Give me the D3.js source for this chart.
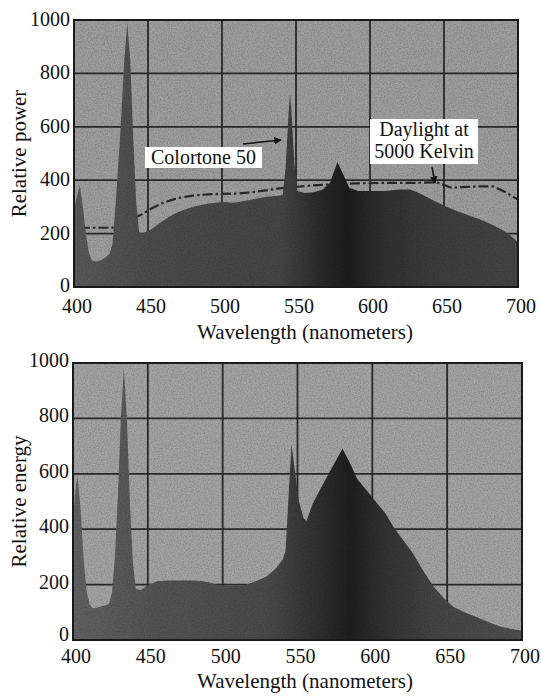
<!DOCTYPE html>
<html>
<head>
<meta charset="utf-8">
<script src="https://cdn.jsdelivr.net/npm/d3@7"></script>
<style>
  body { margin: 0; background: #fff; }
  svg { display: block; }
</style>
</head>
<body>
<svg id="chart" width="541" height="696"></svg>
<script>
// Top panel: Colortone 50 relative power (nm, value)
const colortoneNm = [400, 402, 404, 406, 408, 410, 412, 415, 418, 421, 424, 426, 428, 431, 434, 436, 438, 440, 442, 444,
  446, 452, 458, 464, 470, 476, 482, 490, 500, 508, 515, 522, 530, 538, 541, 543, 545, 546, 547, 549, 551, 556, 562, 568,
  573, 578, 582, 586, 592, 600, 610, 620, 627, 632, 638, 645, 652, 660, 667, 675, 683, 690, 695, 700];
const colortonePower = [290, 340, 380, 300, 200, 130, 100, 95, 100, 110, 125, 160, 300, 550, 850, 990, 850, 560, 320, 205,
  200, 215, 240, 262, 280, 292, 302, 312, 318, 316, 322, 330, 338, 342, 345, 450, 650, 725, 650, 450, 360, 352, 355, 365,
  390, 468, 420, 372, 360, 360, 360, 365, 365, 355, 338, 318, 300, 282, 268, 252, 232, 212, 192, 168];

// Daylight at 5000 K, dash-dot line
const daylightNm = [404, 426, 446, 452, 460, 470, 480, 490, 500, 510, 520, 530, 540, 550, 560, 575, 590, 610, 630, 645,
  655, 665, 675, 683, 690, 697, 700];
const daylightPower = [222, 222, 272, 293, 315, 333, 342, 347, 349, 350, 355, 362, 370, 375, 380, 385, 388, 390, 390, 392,
  372, 375, 377, 377, 360, 337, 328];

// Bottom panel: relative energy (nm, value)
const energyNm = [400, 402, 403, 405, 407, 409, 411, 413, 417, 421, 424, 426, 428, 430, 432, 434, 436, 438, 440, 442,
  445, 450, 456, 462, 470, 480, 486, 492, 497, 505, 515, 522, 529, 535, 540, 542, 544, 546, 548, 551, 554, 556, 560, 565,
  572, 580, 585, 590, 597, 603, 609, 614, 620, 627, 634, 641, 648, 654, 663, 670, 677, 686, 693, 700];
const energyValue = [450, 560, 590, 480, 300, 180, 130, 115, 118, 125, 130, 170, 300, 520, 800, 980, 800, 500, 280, 185,
  180, 198, 212, 215, 215, 215, 213, 207, 198, 196, 198, 212, 228, 255, 290, 320, 520, 705, 620, 500, 440, 430, 490, 542,
  612, 690, 640, 580, 535, 495, 455, 410, 365, 314, 250, 192, 150, 120, 97, 82, 66, 48, 40, 34];

const xTicks = [400, 450, 500, 550, 600, 650, 700];
const yTicks = [0, 200, 400, 600, 800, 1000];

const serif = "'Liberation Serif', Tinos, 'Times New Roman', Times, 'DejaVu Serif', serif";
const svg = d3.select("#chart").attr("font-family", serif);

// grain for the printed look
const defs = svg.append("defs");
const grain = defs.append("filter").attr("id", "grain").attr("x", 0).attr("y", 0).attr("width", 1).attr("height", 1);
grain.append("feTurbulence").attr("type", "fractalNoise").attr("baseFrequency", 0.7).attr("numOctaves", 2).attr("seed", 3);
grain.append("feColorMatrix").attr("type", "matrix")
  .attr("values", "0 0 0 0 0  0 0 0 0 0  0 0 0 0 0  0 0 0 -1.4 0.9");

function drawPanel(p) {
  const x = d3.scaleLinear().domain([400, 700]).range([p.left, p.right]);
  const y = d3.scaleLinear().domain([0, 1000]).range([p.bottom, p.top]);
  const g = svg.append("g");

  defs.append("clipPath").attr("id", p.id + "-clip")
    .append("rect").attr("x", p.left).attr("y", p.top)
    .attr("width", p.right - p.left).attr("height", p.bottom - p.top);

  const grad = defs.append("linearGradient").attr("id", p.id + "-grad")
    .attr("gradientUnits", "userSpaceOnUse")
    .attr("x1", p.left).attr("x2", p.right).attr("y1", 0).attr("y2", 0);
  p.shade.forEach(s => grad.append("stop").attr("offset", (x(s[0]) - p.left) / (p.right - p.left)).attr("stop-color", s[1]));

  g.append("rect").attr("x", p.left).attr("y", p.top)
    .attr("width", p.right - p.left).attr("height", p.bottom - p.top)
    .attr("fill", p.bg);

  const inner = g.append("g").attr("clip-path", `url(#${p.id}-clip)`);

  inner.selectAll(".vgrid").data(xTicks).enter().append("line")
    .attr("x1", d => x(d)).attr("x2", d => x(d)).attr("y1", p.top).attr("y2", p.bottom)
    .attr("stroke", "#2a2a2a").attr("stroke-width", 1.8);
  inner.selectAll(".hgrid").data(yTicks).enter().append("line")
    .attr("x1", p.left).attr("x2", p.right).attr("y1", d => y(d)).attr("y2", d => y(d))
    .attr("stroke", "#2a2a2a").attr("stroke-width", 1.8);

  if (p.lineNm) {
    const line = d3.line().x(d => x(d[0])).y(d => y(d[1]));
    inner.append("path").datum(d3.zip(p.lineNm, p.lineVal))
      .attr("d", line).attr("fill", "none")
      .attr("stroke", "#2a2a2a").attr("stroke-width", 2.2)
      .attr("stroke-dasharray", "10,3,2.5,3");
  }

  const area = d3.area().x(d => x(d[0])).y0(y(0)).y1(d => y(d[1]));
  inner.append("path").datum(d3.zip(p.nm, p.val))
    .attr("d", area).attr("fill", `url(#${p.id}-grad)`);

  inner.append("rect").attr("x", p.left).attr("y", p.top)
    .attr("width", p.right - p.left).attr("height", p.bottom - p.top)
    .attr("filter", "url(#grain)").attr("opacity", 0.22);

  g.append("rect").attr("x", p.left).attr("y", p.top)
    .attr("width", p.right - p.left).attr("height", p.bottom - p.top)
    .attr("fill", "none").attr("stroke", "#1a1a1a").attr("stroke-width", 2);

  // tick labels
  g.selectAll(".xl").data(xTicks).enter().append("text")
    .attr("x", d => x(d) + 3).attr("y", p.bottom + p.xLabelDy)
    .attr("text-anchor", "middle").attr("font-size", 20).attr("fill", "#111").text(d => d);
  g.selectAll(".yl").data(yTicks).enter().append("text")
    .attr("x", p.left - 4).attr("y", d => y(d) + (d === 0 ? p.zeroDy : p.yLabelDy))
    .attr("text-anchor", "end").attr("font-size", 20).attr("fill", "#111").text(d => d);

  g.append("text").attr("x", 305).attr("y", p.xTitleY)
    .attr("text-anchor", "middle").attr("font-size", 21).attr("fill", "#111").text("Wavelength (nanometers)");
  g.append("text")
    .attr("transform", `translate(26,${(p.top + p.bottom) / 2}) rotate(-90)`)
    .attr("text-anchor", "middle").attr("font-size", 21).attr("fill", "#111").text(p.yTitle);

  return { x, y, g };
}

const powerPanel = drawPanel({
  id: "top", left: 74, right: 518, top: 20, bottom: 287,
  nm: colortoneNm, val: colortonePower, lineNm: daylightNm, lineVal: daylightPower,
  bg: "#9e9e9e", xLabelDy: 26, yLabelDy: 6, zeroDy: 5, xTitleY: 339, yTitle: "Relative power",
  shade: [[400, "#5a5a5a"], [450, "#4c4c4c"], [540, "#454545"], [565, "#2c2c2c"], [585, "#1b1b1b"], [605, "#2e2e2e"], [640, "#3c3c3c"], [700, "#454545"]]
});

drawPanel({
  id: "bot", left: 73, right: 522, top: 363, bottom: 640,
  nm: energyNm, val: energyValue,
  bg: "#a3a3a3", xLabelDy: 23, yLabelDy: 4, zeroDy: 1, xTitleY: 688, yTitle: "Relative energy",
  shade: [[400, "#626262"], [450, "#555555"], [530, "#4a4a4a"], [560, "#333333"], [585, "#1e1e1e"], [605, "#303030"], [640, "#444444"], [700, "#505050"]]
});

// annotations on the top panel
const tg = powerPanel.g;
function label(lines, cx, cy, w, h) {
  tg.append("rect").attr("x", cx - w / 2).attr("y", cy - h / 2).attr("width", w).attr("height", h).attr("fill", "#fff");
  lines.forEach((t, i) => tg.append("text").attr("x", cx).attr("y", cy - h / 2 + 17 + i * 22)
    .attr("text-anchor", "middle").attr("font-size", 20).attr("fill", "#111").text(t));
}
defs.append("marker").attr("id", "head").attr("viewBox", "0 0 10 10").attr("refX", 9).attr("refY", 5)
  .attr("markerWidth", 5).attr("markerHeight", 5).attr("orient", "auto")
  .append("path").attr("d", "M0,0 L10,5 L0,10 z").attr("fill", "#111");

label(["Colortone 50"], 203.5, 157.5, 117, 21);
tg.append("line").attr("x1", 243).attr("y1", 144).attr("x2", 281).attr("y2", 140)
  .attr("stroke", "#111").attr("stroke-width", 1.5).attr("marker-end", "url(#head)");

label(["Daylight at", "5000 Kelvin"], 424, 141.5, 108, 45);
tg.append("line").attr("x1", 432).attr("y1", 167).attr("x2", 435).attr("y2", 183)
  .attr("stroke", "#111").attr("stroke-width", 1.5).attr("marker-end", "url(#head)");
</script>
</body>
</html>
